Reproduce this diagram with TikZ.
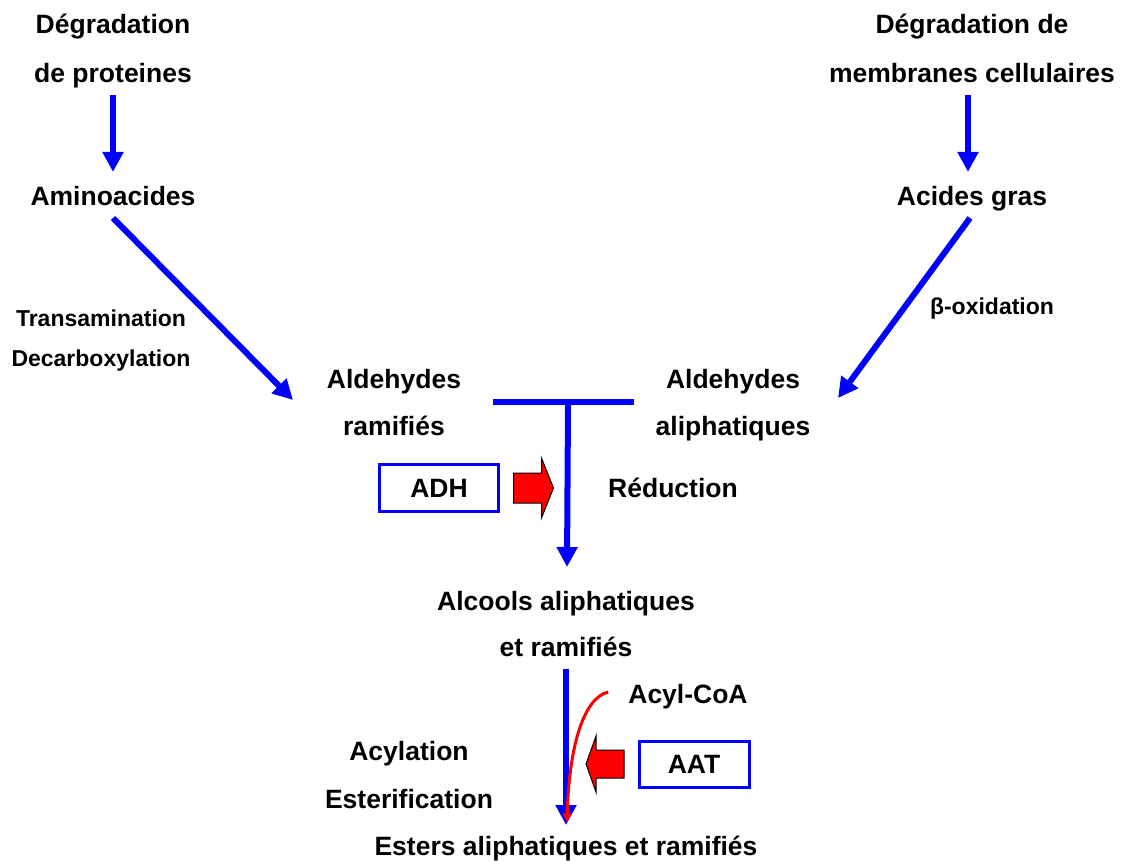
\documentclass[tikz,border=0pt]{standalone}
\usepackage{fontspec}
\setmainfont{Liberation Sans}
\usetikzlibrary{arrows.meta,calc}

\begin{document}
\begin{tikzpicture}[x=1pt,y=-1pt,
	txt/.style={anchor=base,inner sep=0pt,font=\fontsize{26.5}{30}\selectfont\bfseries},
	stxt/.style={anchor=base,inner sep=0pt,font=\fontsize{23}{26}\selectfont\bfseries},
	flow/.style={draw=blue,line width=6pt,-{Triangle[length=20pt,width=20pt]}},
	bar/.style={draw=blue,line width=6pt},
	enz/.style={draw=blue,line width=3pt,inner sep=0pt,font=\fontsize{26.5}{30}\selectfont\bfseries},
	blockarrow/.style={fill=red,draw=black,line width=1pt}]
		\useasboundingbox (0,0) rectangle (1121,861);
		% sources
		\node[txt] (deg1) at (113,33.5) {Dégradation};
		\node[txt] (deg2) at (113,82.5) {de proteines};
		\node[txt] (amino) at (113,205.5) {Aminoacides};
		\node[txt] (degm1) at (972,33.5) {Dégradation de};
		\node[txt] (degm2) at (972,82.5) {membranes cellulaires};
		\node[txt] (acides) at (972,205.5) {Acides gras};
		\draw[flow] ($(deg2.base)+(0,12.5)$) -- ($(amino.base)+(0,-33.5)$);
		\draw[flow] ($(degm2.base)+(-4,12.5)$) -- ($(acides.base)+(-4,-33.5)$);
		% aldehydes
		\node[stxt] (trans) at (101,326.3) {Transamination};
		\node[stxt] (decarb) at (101,366.3) {Decarboxylation};
		\node[stxt] (beta) at (992,314.3) {β-oxidation};
		\node[txt] (aldr1) at (394,388.5) {Aldehydes};
		\node[txt] (aldr2) at (394,435.5) {ramifiés};
		\node[txt] (alda1) at (733,388.5) {Aldehydes};
		\node[txt] (alda2) at (733,435.5) {aliphatiques};
		\draw[flow] ($(amino.base)+(0,12.5)$) -- ($(aldr1.base)+(-101,11.5)$);
		\draw[flow] ($(acides.base)+(-2,12.5)$) -- ($(alda1.base)+(105,9.5)$);
		% reduction
		\coordinate (jl) at (493,402);
		\coordinate (jr) at (634,402);
		\coordinate (jm) at (568,402);
		\node[txt] (alc1) at (566,610.5) {Alcools aliphatiques};
		\node[txt] (alc2) at (566,656.5) {et ramifiés};
		\draw[bar] (jl) -- (jr);
		\draw[flow] ([yshift=-3pt]jm) -- ($(alc1.base)+(1,-43.5)$);
		\node[enz,minimum width=119pt,minimum height=47pt] (adh) at (439,488) {ADH};
		\fill[blockarrow] ($(adh.east)+(13.5,-15)$) -- ++(28,0) -- ++(0,-15) -- ++(12,30)
			-- ++(-12,30) -- ++(0,-15) -- ++(-28,0) -- cycle;
		\node[txt] (redu) at (673,497.5) {Réduction};
		% esterification
		\node[txt] (acyl) at (688,703.5) {Acyl-CoA};
		\node[txt] (acyl2) at (409,760.5) {Acylation};
		\node[txt] (ester) at (409,808.5) {Esterification};
		\node[txt] (esters) at (566,855.5) {Esters aliphatiques et ramifiés};
		\draw[flow] ($(alc2.base)+(0,12)$) -- ($(esters.base)+(0,-30.5)$);
		\draw[red,line width=3pt,-{Triangle[length=9pt,width=9pt]}] ($(acyl.base west)+(-20,-11.5)$)
			.. controls +(-25,6) and +(2,-75) .. ($(esters.base)+(1,-33)$);
		\node[enz,minimum width=110pt,minimum height=46pt] (aat) at (694,764.5) {AAT};
		\fill[blockarrow] ($(aat.west)+(-13.5,-14.5)$) -- ++(-28,0) -- ++(0,-14) -- ++(-10,28)
			-- ++(10,28) -- ++(0,-14) -- ++(28,0) -- cycle;
\end{tikzpicture}
\end{document}
